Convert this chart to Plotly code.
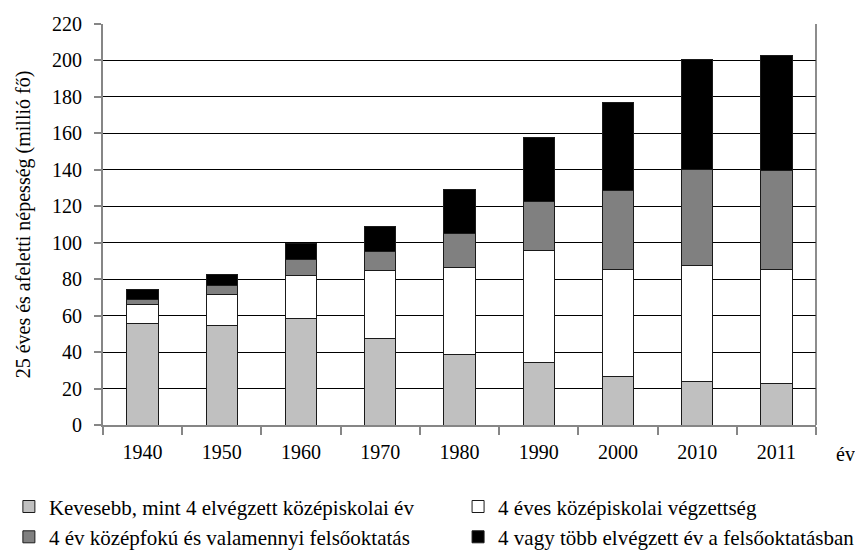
import plotly.graph_objects as go

years = ["1940", "1950", "1960", "1970", "1980", "1990", "2000", "2010", "2011"]
less_than_hs = [55.8, 54.4, 58.4, 47.6, 38.8, 34.4, 26.4, 23.8, 22.9]
hs_4yr = [10.5, 17.2, 23.8, 37.1, 47.8, 61.2, 58.7, 63.7, 62.6]
some_college = [2.5, 4.9, 8.4, 10.5, 18.3, 27.2, 43.4, 52.9, 54.4]
college_4plus = [5.7, 5.9, 9.2, 13.7, 24.5, 35.0, 48.5, 60.2, 62.7]

series_names = [
    "Kevesebb, mint 4 elvégzett középiskolai év",
    "4 éves középiskolai végzettség",
    "4 év középfokú és valamennyi felsőoktatás",
    "4 vagy több elvégzett év a felsőoktatásban",
]
series_values = [less_than_hs, hs_4yr, some_college, college_4plus]
series_colors = ["#C0C0C0", "#FFFFFF", "#808080", "#000000"]
series_legends = ["legend", "legend2", "legend", "legend2"]

y_ticks = list(range(0, 221, 20))

FONT = "Liberation Serif, Times New Roman, serif"

fig = go.Figure()
for i, (name, vals, col, lg) in enumerate(zip(series_names, series_values, series_colors, series_legends)):
    fig.add_trace(go.Bar(
        x=years, y=vals, name=name, legend=lg, legendgroup=f"g{i}",
        marker=dict(color=col, line=dict(color="#1a1a1a", width=1)),
    ))

legend_common = dict(
    orientation="v",
    xanchor="left", yanchor="top", y=-0.153,
    itemwidth=30, tracegroupgap=6, traceorder="normal",
    bgcolor="rgba(0,0,0,0)", borderwidth=0,
    font=dict(family=FONT, size=21, color="black"),
)

fig.update_layout(
    width=855, height=546,
    barmode="stack", bargap=0.605,
    plot_bgcolor="white", paper_bgcolor="white",
    margin=dict(l=95, r=47, t=16, b=129, autoexpand=False),
    font=dict(family=FONT, color="black", size=20),
    showlegend=True,
    legend=dict(x=-0.132, **legend_common),
    legend2=dict(x=0.498, **legend_common),
    xaxis=dict(
        type="category", tickson="boundaries",
        showline=True, linecolor="#868686", linewidth=2,
        ticks="outside", ticklen=8, tickwidth=2, tickcolor="#868686",
        showgrid=False, tickfont=dict(size=20, family=FONT, color="black"),
        range=[-0.5, 8.5], ticklabelstandoff=8,
    ),
    yaxis=dict(
        range=[0, 220], tickvals=y_ticks,
        showline=True, linecolor="#868686", linewidth=2,
        ticks="outside", ticklen=7, tickwidth=2, tickcolor="#868686",
        showgrid=True, gridcolor="black", gridwidth=1,
        zeroline=False, tickfont=dict(size=20, family=FONT, color="black"),
        ticklabelstandoff=8,
        title=dict(text="25 éves és afeletti népesség (millió fő)",
                   font=dict(size=20, family=FONT, color="black"), standoff=16),
    ),
    shapes=[dict(type="line", xref="paper", yref="y", x0=1, x1=1, y0=0, y1=220,
                 line=dict(color="#404040", width=1.2))],
    annotations=[dict(text="év", xref="paper", yref="paper", x=1.042, y=-0.072,
                      xanchor="center", yanchor="middle", showarrow=False,
                      font=dict(size=20, family=FONT, color="black"))],
)

fig.write_html("out.html")
